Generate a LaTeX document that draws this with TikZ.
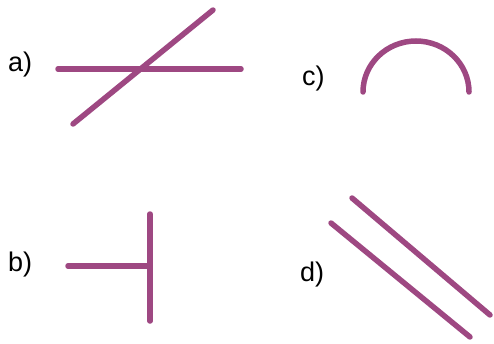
\documentclass[tikz,border=0pt]{standalone}
\usepackage{fontspec}
\setmainfont{Liberation Sans}
\definecolor{lineviolet}{RGB}{158,72,130}
\begin{document}
\begin{tikzpicture}[x=1pt, y=-1pt,
    seg/.style={line width=5.5pt, draw=lineviolet, line cap=round},
    tag/.style={anchor=base west, inner sep=0pt, font=\fontsize{27}{31}\selectfont}]
\useasboundingbox (0,0) rectangle (494,343);
% a) two crossing lines
\node[tag] (taga) at (8,71) {a)};
\coordinate (a1) at (58,69);
\coordinate (a2) at (241,69);
\coordinate (a3) at (73,124);
\coordinate (a4) at (213,10);
\draw[seg] (a1) -- (a2);
\draw[seg] (a3) -- (a4);
% c) half circle
\node[tag] (tagc) at (302,85) {c)};
\coordinate (c1) at (363,92);
\draw[seg] (c1) arc [start angle=180, end angle=360, x radius=53, y radius=51];
% b) T on its side
\node[tag] (tagb) at (8,271) {b)};
\coordinate (b1) at (68,266);
\coordinate (b2) at (150,266);
\coordinate (b3) at (150,214);
\coordinate (b4) at (150,321);
\draw[seg] (b1) -- (b2);
\draw[seg] (b3) -- (b4);
% d) two parallel lines
\node[tag] (tagd) at (300,281) {d)};
\coordinate (d1) at (352,198);
\coordinate (d2) at (490,315);
\coordinate (d3) at (331,223);
\coordinate (d4) at (470,337);
\draw[seg] (d1) -- (d2);
\draw[seg] (d3) -- (d4);
\end{tikzpicture}
\end{document}
